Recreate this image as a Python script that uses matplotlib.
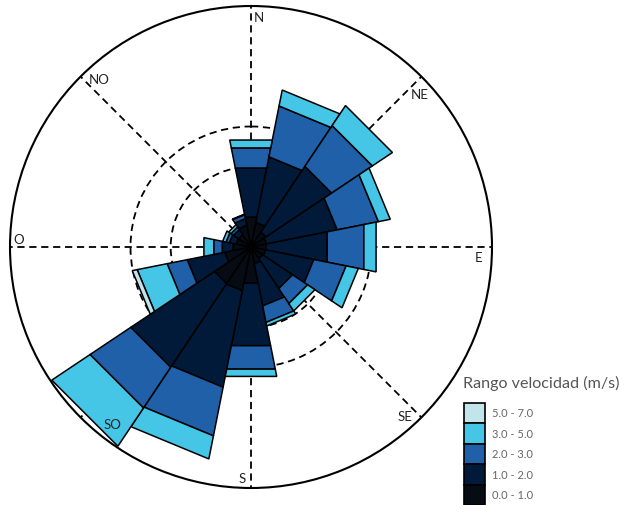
import numpy as np
import matplotlib.pyplot as plt
from matplotlib.patches import Rectangle

# 16 sectores, grados desde el norte en sentido horario
ANGLES = np.arange(16) * 22.5

# frecuencia (%) por rango de velocidad y sector: N, NNE, NE, ... NNO
FREQ_0_1 = [1.52, 1.25, 0.90, 0.80, 0.75, 0.75, 0.70, 0.85,
            1.83, 2.22, 2.19, 1.34, 0.91, 0.75, 0.75, 1.10]
FREQ_1_2 = [2.49, 3.33, 3.93, 3.58, 3.12, 2.44, 1.79, 2.14,
            3.18, 4.90, 5.01, 1.90, 0.55, 0.35, 0.30, 0.34]
FREQ_2_3 = [1.02, 2.58, 2.44, 2.09, 1.86, 1.64, 0.90, 0.84,
            1.19, 2.47, 2.44, 1.02, 0.43, 0.17, 0.15, 0.20]
FREQ_3_5 = [0.40, 0.81, 1.20, 0.60, 0.62, 0.62, 0.44, 0.18,
            0.37, 1.17, 2.29, 1.52, 0.50, 0.17, 0.14, 0.03]
FREQ_5_7 = [0, 0, 0, 0, 0, 0, 0, 0,
            0, 0, 0, 0.25, 0, 0, 0, 0]

SERIES = [FREQ_0_1, FREQ_1_2, FREQ_2_3, FREQ_3_5, FREQ_5_7]
SPEED_LABELS = ["0.0 - 1.0", "1.0 - 2.0", "2.0 - 3.0", "3.0 - 5.0", "5.0 - 7.0"]
COLORS = ["#060b14", "#021a3a", "#1f60a8", "#45c6e6", "#c2e5ec"]

DIR_LABELS = ["N", "NE", "E", "SE", "S", "SO", "O", "NO"]
DIR_LABEL_ANGLES = [2.0, 47.8, 92.5, 137.7, 182.1, 218.2, 272.0, 317.9]
DIR_LABEL_R = [11.48, 11.34, 11.36, 11.38, 11.49, 11.19, 11.56, 11.28]

R_MAX = 12.0
GRID = dict(color="black", linestyle=(0, (4, 2.6)), linewidth=1.3)


def main():
    fig = plt.figure(figsize=(6.26, 5.06), dpi=100)
    ax = fig.add_axes([10 / 626, 17 / 506, 482 / 626, 482 / 506], projection="polar")
    ax.set_theta_zero_location("N")
    ax.set_theta_direction(-1)
    ax.set_axisbelow(True)

    width = np.deg2rad(22.5)
    theta = np.deg2rad(ANGLES)
    base = np.zeros(len(ANGLES))
    for vals, color in zip(SERIES, COLORS):
        top = base + np.asarray(vals)
        for th, lo, hi in zip(theta, base, top):
            if hi - lo <= 0:
                continue
            t0, t1 = th - width / 2, th + width / 2
            ax.fill([t0, t1, t1, t0], [lo, lo, hi, hi], facecolor=color,
                    edgecolor="black", linewidth=1.1, zorder=2)
        base = top

    ax.set_ylim(0, R_MAX)
    ax.set_thetagrids(np.arange(0, 360, 45), labels=[])
    ax.set_rgrids([4, 6], labels=[])
    ax.grid(True, **GRID)
    ax.spines["polar"].set_linewidth(1.5)

    for lab, a, r in zip(DIR_LABELS, DIR_LABEL_ANGLES, DIR_LABEL_R):
        ax.text(np.deg2rad(a), r, lab, ha="center", va="center",
                fontsize=9.5, family="Lato", color="#222222", zorder=5)

    # leyenda dibujada a mano
    W, H = 626, 506
    fig.text(463 / W, 1 - 383 / H, "Rango velocidad (m/s)", ha="left", va="center",
             fontsize=11.6, family="Lato", color="#555555")
    box_w, box_h = 21.5, 20.5
    for i, (lab, color) in enumerate(zip(SPEED_LABELS[::-1], COLORS[::-1])):
        y_top = 403.5 + i * box_h
        fig.add_artist(Rectangle((463.5 / W, 1 - (y_top + box_h) / H), box_w / W, box_h / H,
                                 transform=fig.transFigure, facecolor=color,
                                 edgecolor="black", linewidth=1.2))
        fig.text(492 / W, 1 - (y_top + box_h / 2) / H, lab, ha="left", va="center",
                 fontsize=8, family="Lato", color="#666666")

    fig.savefig("out.png", dpi=100)
    plt.close(fig)


if __name__ == "__main__":
    main()
